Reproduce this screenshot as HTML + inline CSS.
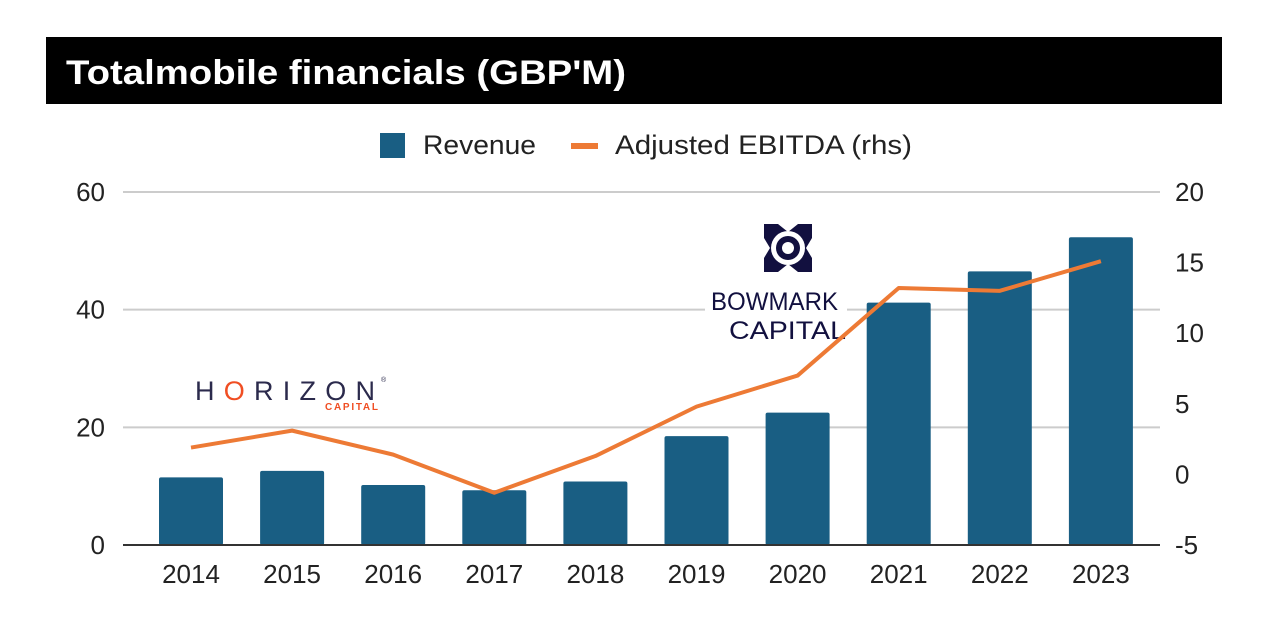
<!DOCTYPE html>
<html><head><meta charset="utf-8"><style>
body{margin:0;background:#fff;width:1262px;height:632px;overflow:hidden;font-family:"Liberation Sans",Arial,sans-serif}
</style></head><body>
<svg width="1262" height="632" viewBox="0 0 1262 632">
<rect x="46" y="37" width="1176" height="67" fill="#000"/>
<text x="66" y="84" fill="#fff" font-size="34" font-weight="bold" textLength="560" lengthAdjust="spacingAndGlyphs">Totalmobile financials (GBP'M)</text>
<g>
<rect x="380" y="133" width="25" height="25" fill="#195e83"/>
<text x="423" y="154" font-size="27" fill="#222" textLength="113" lengthAdjust="spacingAndGlyphs">Revenue</text>
<rect x="571" y="143" width="27" height="6" fill="#ed7a35"/>
<text x="615" y="154" font-size="27" fill="#222" textLength="297" lengthAdjust="spacingAndGlyphs">Adjusted EBITDA (rhs)</text>
</g>
<g id="grid"></g><g id="bars"></g><g id="logos"></g><g id="line"></g><g id="axes"></g>
</svg>
<script>
const years=["2014","2015","2016","2017","2018","2019","2020","2021","2022","2023"];
const revenue=[11.5,12.6,10.2,9.3,10.8,18.5,22.5,41.2,46.5,52.3];
const ebitda=[1.9,3.1,1.4,-1.3,1.3,4.8,7.0,13.2,13.0,15.1];
const leftTicks=[0,20,40,60];
const rightTicks=[-5,0,5,10,15,20];
const NS="http://www.w3.org/2000/svg";
const x0=123,x1=1160,yTop=192,yBot=545;
const yL=v=>yBot-(v/60)*(yBot-yTop);
const yR=v=>yBot-((v+5)/25)*(yBot-yTop);
const step=101.1;
const xc=i=>191+step*i;
function mk(tag,attrs,parent,txt){const e=document.createElementNS(NS,tag);for(const k in attrs)e.setAttribute(k,attrs[k]);if(txt!==undefined)e.textContent=txt;document.getElementById(parent).appendChild(e);return e;}
leftTicks.forEach(t=>{
 if(t>0){const g=mk("line",{x1:x0,x2:x1,y1:yL(t),y2:yL(t),stroke:"#ccc","stroke-width":2},"grid");
 
 }
 const l=mk("text",{x:105,y:yL(t)+9,"text-anchor":"end","font-size":26,fill:"#222"},"axes",t);
 
 
});
rightTicks.forEach(t=>{
 const l=mk("text",{x:1175,y:yR(t)+9,"font-size":26,fill:"#222"},"axes",t);
 
 
});
const base=mk("line",{x1:x0,x2:x1,y1:yBot,y2:yBot,stroke:"#333","stroke-width":2},"axes");


years.forEach((y,i)=>{
 const cx=xc(i);
 const b=mk("rect",{x:cx-32,y:yL(revenue[i]),width:64,height:yBot-yL(revenue[i]),fill:"#195e83",rx:2},"bars");
 
 
 const l=mk("text",{x:cx,y:583,"text-anchor":"middle","font-size":26,fill:"#222"},"axes",y);
 
 
});
const pl=mk("polyline",{points:ebitda.map((v,i)=>xc(i)+","+yR(v)).join(" "),fill:"none",stroke:"#ed7a35","stroke-width":4,"stroke-linejoin":"round"},"line");


const lg=document.getElementById("logos");
lg.innerHTML=`<g>
<text x="195" y="400" font-size="27" fill="#2b2a4c" textLength="180" lengthAdjust="spacing">H<tspan fill="#f04e23">O</tspan>RIZON</text>
<text x="381" y="382" font-size="7" fill="#2b2a4c">®</text>
<text x="325" y="410" font-size="10" fill="#f04e23" textLength="53" lengthAdjust="spacing" font-weight="bold">CAPITAL</text></g>
<g>
<rect x="705" y="282" width="142" height="62" fill="#fff"/>
<rect x="764" y="224" width="48" height="48" fill="#12103f"/>
<path d="M778,224 L798,224 L788,232 Z M778,272 L798,272 L788,264 Z M764,238 L764,258 L770,248 Z M812,238 L812,258 L806,248 Z" fill="#fff"/>
<circle cx="788" cy="248" r="17" fill="#fff"/>
<circle cx="788" cy="248" r="12" fill="#12103f"/>
<circle cx="788" cy="248" r="6" fill="#fff"/>
<text x="711" y="310" font-size="25" fill="#12103f" textLength="127" lengthAdjust="spacingAndGlyphs">BOWMARK</text>
<text x="729" y="339" font-size="25" fill="#12103f" textLength="117" lengthAdjust="spacingAndGlyphs">CAPITAL</text></g>`;
</script>
</body></html>
